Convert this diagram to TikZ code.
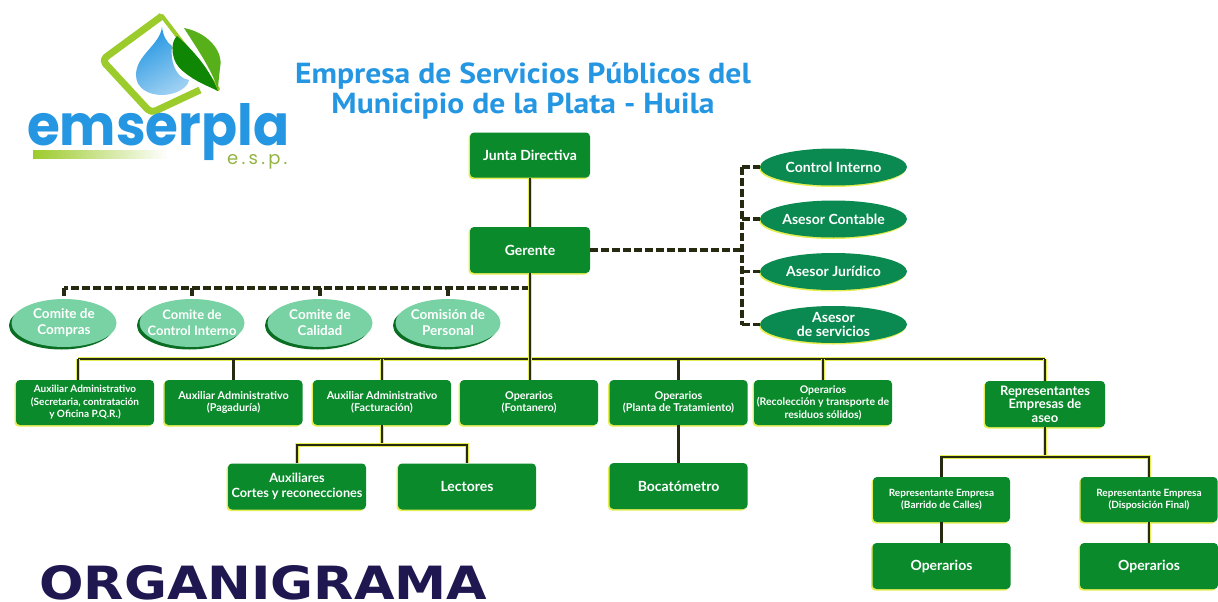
\documentclass[tikz,border=0pt]{standalone}
\usepackage{fontspec}
\setmainfont{Lato}
\newfontfamily\titlefont{PT Sans}
\newfontfamily\logofont{Poppins}
\newfontfamily\subfont[LetterSpace=18]{Poppins}
\newfontfamily\headfont{DejaVu Sans}
\usetikzlibrary{shapes.geometric,shadows}
\definecolor{boxgreen}{HTML}{0B8A2C}
\definecolor{ovalgreen}{HTML}{0A8A50}
\definecolor{palegreen}{HTML}{78D2A4}
\definecolor{halo}{HTML}{E4EE50}
\definecolor{linedark}{HTML}{262A10}
\definecolor{skyblue}{HTML}{2496E2}
\definecolor{lime}{HTML}{9CCB2C}
\definecolor{navy}{HTML}{1F1850}
\tikzset{
  gbox/.style={rectangle,rounded corners=4pt,fill=boxgreen,draw=none,text=white,align=center,
    inner sep=0pt,font=\fontsize{10.8}{12.5}\selectfont\bfseries,
    general shadow={shadow xshift=-1.5pt,shadow yshift=-1.5pt,fill=halo,rounded corners=4pt}},
  rowbox/.style={gbox,minimum width=138pt,minimum height=45pt},
  lowbox/.style={gbox,minimum width=138pt,minimum height=46pt,font=\fontsize{14}{15}\selectfont\bfseries},
  repbox/.style={gbox,minimum width=137pt,minimum height=45pt,font=\fontsize{10}{12.5}\selectfont\bfseries},
  topbox/.style={gbox,minimum width=120pt,minimum height=45pt,font=\fontsize{14}{15}\selectfont\bfseries},
  advisor/.style={ellipse,fill=ovalgreen,draw=none,text=white,align=center,inner sep=0pt,
    minimum width=147pt,minimum height=37pt,font=\fontsize{14}{14.5}\selectfont\bfseries,
    general shadow={shadow xshift=-1pt,shadow yshift=-1.5pt,fill=halo}},
  committee/.style={ellipse,fill=palegreen,draw=none,text=white,align=center,inner sep=0pt,
    minimum width=105pt,minimum height=48pt,font=\fontsize{13.5}{16}\selectfont\bfseries,
    general shadow={shadow xshift=-2.5pt,shadow yshift=-2.5pt,fill=boxgreen!80!black}},
  solidlink/.style={draw=linedark,line width=2.6pt,preaction={draw=halo,line width=3.4pt}},
  dashlink/.style={draw=linedark,line width=3.4pt,dash pattern=on 8pt off 3pt},
}
\begin{document}
\begin{tikzpicture}[x=1pt,y=-1pt]
\useasboundingbox (0,0) rectangle (1218,602);
\fill[white] (0,0) rectangle (1218,602);

% logo
\draw[lime,line width=7pt,line join=round,rounded corners=5pt]
  (200,90) -- (151,113) -- (102,60) -- (162,16);
\draw[lime,line width=4pt,line join=round,line cap=round] (162,16) -- (218,89);
\shade[top color=skyblue,bottom color=skyblue!45!white,shading angle=30]
  (162,27) .. controls (160,45) and (136,55) .. (136,75)
  .. controls (136,88) and (148,95) .. (162,95)
  .. controls (175,95) and (188,88) .. (189,80)
  .. controls (175,78) and (170,60) .. (172,46)
  .. controls (166,42) and (163,35) .. (162,27) -- cycle;
\fill[green!50!black!90!lime]
  (177,36) .. controls (170,42) and (170,62) .. (184,72) .. controls (196,82) and (208,86) .. (218,91)
  .. controls (210,70) and (195,52) .. (177,36) -- cycle;
\fill[lime!70!green!80!black]
  (184,28) .. controls (206,32) and (224,50) .. (220,68) .. controls (219,78) and (218,85) .. (218,90)
  .. controls (212,70) and (198,50) .. (184,28) -- cycle;
\node[inner sep=0pt,anchor=base west,text=skyblue] (logoname) at (27,145)
  {\resizebox{262pt}{42pt}{\logofont\bfseries emserpla}};
\shade[left color=lime,right color=white] (33,150) rectangle (168,158);
\node[inner sep=0pt,text=lime!70!gray,anchor=base west] (logosub) at (227,164) {\fontsize{18}{18}\selectfont\subfont e.s.p.};

% titles
\node[inner sep=0pt,text=skyblue,font=\fontsize{29}{30}\selectfont\titlefont\bfseries] (title) at (523,92)
  {\scalebox{1.09}[1]{\begin{tabular}{@{}c@{}}Empresa de Servicios Públicos del\\Municipio de la Plata - Huila\end{tabular}}};
\node[inner sep=0pt,anchor=base west,text=navy] (orga) at (39,599)
  {\resizebox{448pt}{34pt}{\headfont\bfseries ORGANIGRAMA}};

% nodes
\node[topbox] (junta) at (530,155) {Junta Directiva};
\node[topbox,minimum height=46pt] (gerente) at (530,250) {Gerente};
\node[advisor] (c1) at (833.5,167) {Control Interno};
\node[advisor] (c2) at (833.5,219) {Asesor Contable};
\node[advisor] (c3) at (833.5,271.5) {Asesor Jurídico};
\node[advisor,inner ysep=-4pt] (c4) at (833.5,324.5) {Asesor\\de servicios};
\node[committee] (e1) at (64,323) {Comite de\\Compras};
\node[committee,inner xsep=-10pt,font=\fontsize{13}{16}\selectfont\bfseries] (e2) at (192,323) {Comite de\\Control Interno};
\node[committee] (e3) at (320,323) {Comite de\\Calidad};
\node[committee,inner xsep=-2pt] (e4) at (448,323) {Comisión de\\Personal};
\node[rowbox,font=\fontsize{10}{12.5}\selectfont\bfseries] (b1) at (85,402.5) {Auxiliar Administrativo\\(Secretaria, contratación\\y Oficina P.Q.R.)};
\node[rowbox] (b2) at (233.5,402.5) {Auxiliar Administrativo\\(Pagaduría)};
\node[rowbox] (b3) at (382,402.5) {Auxiliar Administrativo\\(Facturación)};
\node[rowbox] (b4) at (529,402.5) {Operarios\\(Fontanero)};
\node[rowbox] (b5) at (678.5,402.5) {Operarios\\(Planta de Tratamiento)};
\node[rowbox,font=\fontsize{10.5}{12.5}\selectfont\bfseries] (b6) at (823,402.5) {Operarios\\(Recolección y transporte de\\residuos sólidos)};
\node[gbox,minimum width=120pt,minimum height=46pt,font=\fontsize{13}{13.5}\selectfont\bfseries] (b7) at (1045,404) {Representantes\\Empresas de\\aseo};
\node[lowbox,font=\fontsize{12.7}{14.5}\selectfont\bfseries] (aux) at (297,486.5) {Auxiliares\\Cortes y reconecciones};
\node[lowbox] (lect) at (467,486.5) {Lectores};
\node[lowbox] (boca) at (678.5,486) {Bocatómetro};
\node[repbox] (r1) at (941.5,499.5) {Representante Empresa\\(Barrido de Calles)};
\node[repbox] (r2) at (1149,499.5) {Representante Empresa\\(Disposición Final)};
\node[lowbox] (o1) at (941.5,566) {Operarios};
\node[lowbox] (o2) at (1149,566) {Operarios};

% connector anchors
\coordinate (busL) at (78,359);
\coordinate (busR) at (1045,359);
\coordinate (dashL) at (64,288);
\coordinate (dashR) at (530,288);
\coordinate (advT) at (742,167);
\coordinate (advB) at (742,324.5);
\coordinate (fork3) at (382,445);
\coordinate (fork3L) at (297,445);
\coordinate (fork3R) at (467,445);
\coordinate (fork7) at (1045,457);
\coordinate (fork7L) at (941.5,457);
\coordinate (fork7R) at (1149,457);

% dashed connectors
\draw[dashlink] (gerente.east) -- (gerente.east -| advT);
\draw[dashlink] (advT) -- (advB);
\draw[dashlink] (advT) -- (c1.west);
\draw[dashlink] (c2.west -| advT) -- (c2.west);
\draw[dashlink] (c3.west -| advT) -- (c3.west);
\draw[dashlink] (advB) -- (c4.west);
\draw[dashlink] (dashR) -- (dashL);
\draw[dashlink] (dashL) -- (e1.north);
\draw[dashlink] (e2.north |- dashL) -- (e2.north);
\draw[dashlink] (e3.north |- dashL) -- (e3.north);
\draw[dashlink] (e4.north |- dashL) -- (e4.north);

% solid connectors
\draw[solidlink] (junta.south) -- (gerente.north);
\draw[solidlink] (busL) -- (busR);
\draw[solidlink] (gerente.south) -- (gerente.south |- b4.north);
\draw[solidlink] (busL) -- (busL |- b1.north);
\draw[solidlink] (b2.north |- busL) -- (b2.north);
\draw[solidlink] (b3.north |- busL) -- (b3.north);
\draw[solidlink] (b5.north |- busL) -- (b5.north);
\draw[solidlink] (b6.north |- busL) -- (b6.north);
\draw[solidlink] (busR) -- (b7.north);
\draw[solidlink] (b3.south) -- (fork3);
\draw[solidlink] (aux.north) -- (fork3L) -- (fork3R) -- (lect.north);
\draw[solidlink] (b5.south) -- (boca.north);
\draw[solidlink] (b7.south) -- (fork7);
\draw[solidlink] (r1.north) -- (fork7L) -- (fork7R) -- (r2.north);
\draw[solidlink] (r1.south) -- (o1.north);
\draw[solidlink] (r2.south) -- (o2.north);
\end{tikzpicture}
\end{document}
